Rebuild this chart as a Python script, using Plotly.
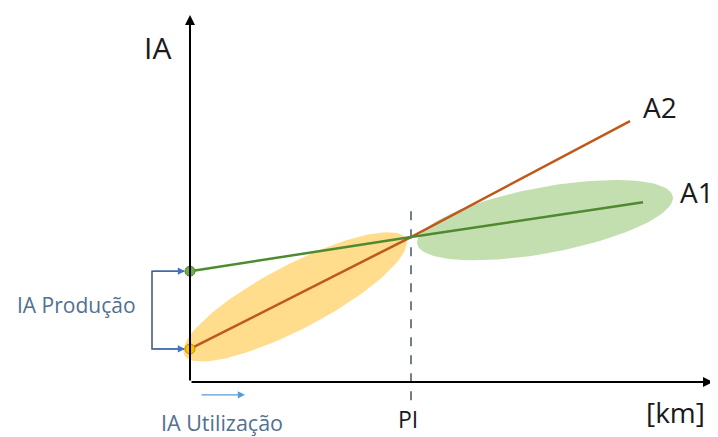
import numpy as np
import plotly.graph_objects as go

# ---- data (abstract units: x ~ km, y ~ IA) ----
KX, KY = 5.0, 3.67           # px per unit (used only to keep ellipses round)
PI_X = 44.2
CROSS_Y = 39.5
a1_x = [0, PI_X, 90.6]
a1_y = [30.2, CROSS_Y, 49.0]
a2_x = [0, PI_X, 88.0]
a2_y = [9.0, CROSS_Y, 71.1]
x_axis_end = 104.6
y_axis_end = 100.0

# ellipse params: center (data), semi-axes (px), angle (deg)
yellow_ell = dict(cx=21.0, cy=23.2, a=125, b=32, ang=27.7)
green_ell = dict(cx=71.0, cy=44.1, a=130, b=33, ang=10.5)

OFF = 8  # page body margin compensation (px)


def ellipse(p, n=120):
    t = np.linspace(0, 2 * np.pi, n)
    th = np.deg2rad(p["ang"])
    px = p["a"] * np.cos(t) * np.cos(th) - p["b"] * np.sin(t) * np.sin(th)
    py = p["a"] * np.cos(t) * np.sin(th) + p["b"] * np.sin(t) * np.cos(th)
    return p["cx"] + px / KX, p["cy"] + py / KY


fig = go.Figure()
ex, ey = ellipse(yellow_ell)
fig.add_trace(go.Scatter(x=ex, y=ey, mode="lines", fill="toself",
                         fillcolor="rgba(255,208,95,0.72)", line=dict(width=0),
                         hoverinfo="skip"))
ex, ey = ellipse(green_ell)
fig.add_trace(go.Scatter(x=ex, y=ey, mode="lines", fill="toself",
                         fillcolor="rgba(169,209,142,0.7)", line=dict(width=0),
                         hoverinfo="skip"))

# PI dashed line
fig.add_trace(go.Scatter(x=[PI_X, PI_X], y=[-5, 48], mode="lines",
                         line=dict(color="#44546A", width=1.5, dash="dash")))

fig.add_trace(go.Scatter(x=a2_x, y=a2_y, mode="lines",
                         line=dict(color="#C0581A", width=2.5)))
fig.add_trace(go.Scatter(x=a1_x, y=a1_y, mode="lines",
                         line=dict(color="#4E8A2F", width=2.5)))
fig.add_trace(go.Scatter(x=[0], y=[a1_y[0]], mode="markers",
                         marker=dict(size=10, color="#70AD47",
                                     line=dict(color="#548235", width=1))))
fig.add_trace(go.Scatter(x=[0], y=[a2_y[0]], mode="markers",
                         marker=dict(size=10, color="#FFC000",
                                     line=dict(color="#BF9000", width=1))))

# bracket
BR_X = -7.6
fig.add_trace(go.Scatter(x=[-1.2, BR_X, BR_X, -1.2], y=[a1_y[0], a1_y[0], a2_y[0], a2_y[0]],
                         mode="lines", line=dict(color="#44546A", width=1.5)))

ann = []
def arrow(x0, y0, x1, y1, color, width, head=2, size=1.0):
    ann.append(dict(x=x1, y=y1, ax=x0, ay=y0, xref="x", yref="y", axref="x", ayref="y",
                    text="", showarrow=True, arrowhead=head, arrowsize=size,
                    arrowwidth=width, arrowcolor=color))

arrow(0, 0, 0, y_axis_end, "black", 2, 2, 1.0)
arrow(0, 0, x_axis_end, 0, "black", 2, 2, 1.0)
arrow(BR_X, a1_y[0], -1.0, a1_y[0], "#4472C4", 1.2, 2, 1.2)
arrow(BR_X, a2_y[0], -1.0, a2_y[0], "#4472C4", 1.2, 2, 1.2)
arrow(2.0, -3.5, 11.0, -3.5, "#5B9BD5", 1.2, 2, 1.2)

def label(x, y, t, size, color="#1a1a1a"):
    ann.append(dict(x=x, y=y, xref="x", yref="y", text=t, showarrow=False,
                    font=dict(size=size, color=color, family="Open Sans")))

label(-6.6, 91.2, "IA", 30)
label(94.0, 74.9, "A2", 28)
label(101.4, 51.8, "A1", 28)
label(43.6, -10.2, "PI", 23)
label(97.0, -8.2, "[km]", 28)
label(-22.8, 21.0, "IA Produção", 21, "#52708F")
label(6.4, -11.0, "IA Utilização", 21.5, "#52708F")

fig.update_layout(
    width=718, height=437, margin=dict(l=0, r=0, t=0, b=0),
    paper_bgcolor="white", plot_bgcolor="white", showlegend=False,
    xaxis=dict(range=[(OFF - 190) / KX, (718 + OFF - 190) / KX], visible=False, fixedrange=True),
    yaxis=dict(range=[(382 - 437 - OFF) / KY, (382 - OFF) / KY], visible=False, fixedrange=True),
    annotations=ann,
)
fig.write_html("out.html")
